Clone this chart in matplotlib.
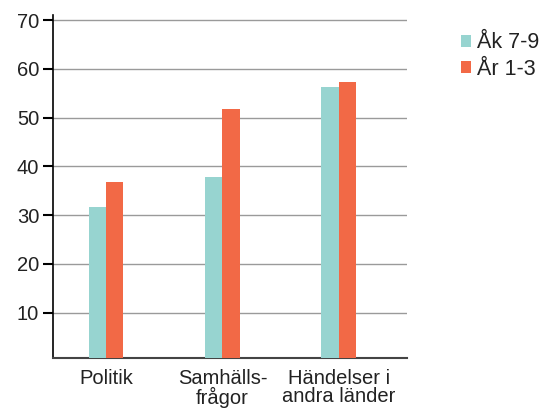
import matplotlib
matplotlib.use("Agg")
import matplotlib.pyplot as plt
import numpy as np

categories = ["Politik", "Samhälls-\nfrågor", "Händelser i\nandra länder"]
series_names = ["Åk 7-9", "År 1-3"]
ak79 = [31.7, 37.8, 56.3]
ar13 = [36.8, 51.7, 57.3]
yticks = [10, 20, 30, 40, 50, 60, 70]
colors = ["#97d4d0", "#f26946"]

plt.rcParams['font.family'] = ['Liberation Sans', 'DejaVu Sans']
fig = plt.figure(figsize=(5.44, 4.13), dpi=100)
ax = fig.add_axes([0.0974, 0.133, 0.6506, 0.830])

x = np.arange(len(categories))
w = 0.15
ax.bar(x - w/2, ak79, w, color=colors[0], label=series_names[0], zorder=3)
ax.bar(x + w/2, ar13, w, color=colors[1], label=series_names[1], zorder=3)

ax.set_xlim(-0.455, 2.584)
ax.set_ylim(0.7, 71)
ax.set_yticks(yticks)
ax.set_yticklabels([str(t) for t in yticks], fontsize=14.5, color='#222222')
ax.set_xticks(x)
ax.set_xticklabels(categories, fontsize=14.5, linespacing=0.95, color='#222222')
ax.tick_params(axis='x', length=0, pad=8)
ax.tick_params(axis='y', length=7, width=1.5, color='black', pad=3)
ax.grid(axis='y', color='#9a9a9a', linewidth=1, zorder=0)
for s in ['top', 'right']:
    ax.spines[s].set_visible(False)
ax.spines['left'].set_color('black')
ax.spines['left'].set_linewidth(1.2)
ax.spines['bottom'].set_color('#444444')
ax.spines['bottom'].set_linewidth(1.5)

leg = fig.legend(loc='upper left', bbox_to_anchor=(0.835, 0.937), frameon=False,
           fontsize=15.5, handlelength=0.5, handleheight=0.5, handletextpad=0.25,
           labelspacing=0.25, borderaxespad=0, borderpad=0.3)
for t in leg.get_texts():
    t.set_color('#222222')

fig.savefig("out.png", dpi=100)
